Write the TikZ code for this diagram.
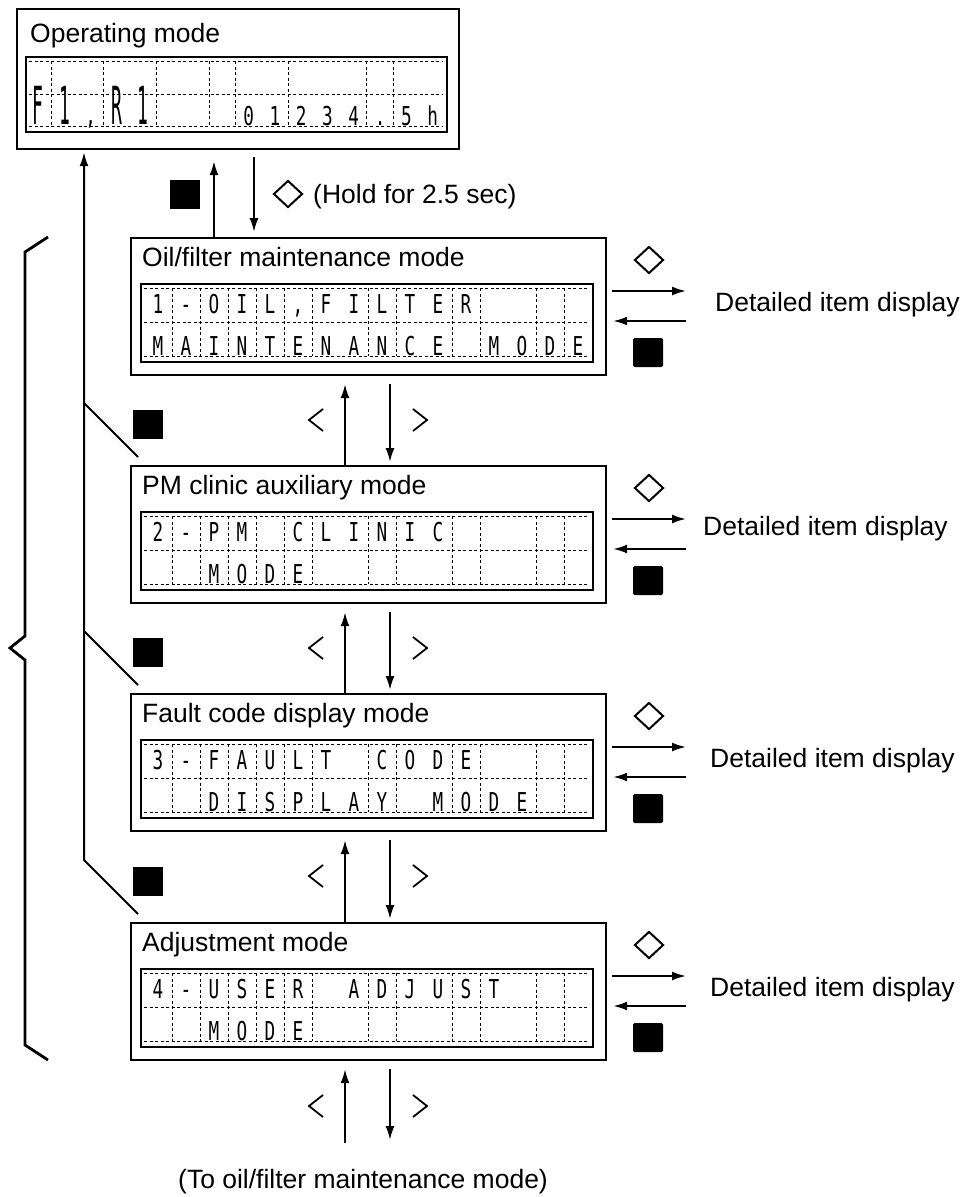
\documentclass[tikz,border=0pt]{standalone}
\usepackage{fontspec}
\setmainfont{Liberation Sans}
\newfontfamily\lcdfont{DejaVu Sans Mono}
\usetikzlibrary{arrows.meta,shapes.geometric}
\tikzset{
 modebox/.style={draw,line width=2.2pt,inner sep=0pt,anchor=north west,minimum width=475pt,minimum height=137pt},
 lcdbox/.style={draw,line width=1.8pt,inner sep=0pt,anchor=north west,minimum width=452pt,minimum height=78pt},
 lcdgrid/.style={line width=0.9pt,dash pattern=on 3pt off 2.5pt},
 title/.style={anchor=base west,inner sep=0pt,font=\fontsize{26.5}{30}\selectfont},
 lbl/.style={anchor=base west,inner sep=0pt,font=\fontsize{26.5}{30}\selectfont},
 lcdch/.style={anchor=base,inner sep=0pt,font=\lcdfont\fontsize{26}{26}\selectfont},
 lcdtall/.style={anchor=base,inner sep=0pt,font=\lcdfont\fontsize{30}{30}\selectfont},
 keysq/.style={fill=black,minimum width=30pt,minimum height=29pt,inner sep=0pt,rounded corners=1.5pt},
 keydia/.style={diamond,draw,line width=2pt,minimum width=29pt,minimum height=27pt,inner sep=0pt},
 arr/.style={line width=2pt,-{Latex[length=14pt,width=9pt]}},
 conn/.style={line width=2pt},
 chev/.style={line width=1.8pt},
}
\newcommand\lcdrow[5]{%
 \foreach \cc/\ch in {#5}{\node[lcdch] (#1-\cc) at ({#2+#3*\cc},#4) {\scalebox{0.68}[1]{\ch}};}}
\newcommand\lcdlines[8]{%
 \draw[lcdgrid] (#1+4,#3+5) -- (#2-4,#3+5);
 \draw[lcdgrid] (#1+4,#4-5) -- (#2-4,#4-5);
 \draw[lcdgrid] (#1+4,#5) -- (#2-4,#5);
 \foreach \k in {#8}{\draw[lcdgrid] ({#6+#7*\k},#3+5) -- ({#6+#7*\k},#4-5);}}
\begin{document}
\begin{tikzpicture}[x=1pt,y=-1pt]
\useasboundingbox (0,0) rectangle (968,1197);
% ---------- operating mode ----------
\node[modebox,minimum width=442pt,minimum height=140pt] (op) at (16,8) {};
\node[title] (optitle) at (30,42) {Operating mode};
\node[lcdbox,minimum width=421pt,minimum height=75pt] (oplcd) at (25,56) {};
\lcdlines{25}{446}{56}{131}{94}{25}{26.3}{1,3,5,7,8,10,13,14}
\node[lcdtall] (opF) at (38.2,124) {\scalebox{0.6}[1.75]{F}};
\node[lcdtall] (op1a) at (64.5,124) {\scalebox{0.6}[1.75]{1}};
\node[lcdch] (opc) at (90.8,124) {\scalebox{0.68}[1]{,}};
\node[lcdtall] (opR) at (117.1,124) {\scalebox{0.6}[1.75]{R}};
\node[lcdtall] (op1b) at (143.4,124) {\scalebox{0.6}[1.75]{1}};
\lcdrow{opr}{38.2}{26.3}{125}{8/0,9/1,10/2,11/3,12/4,13/.,14/5,15/h}
% ---------- mode boxes ----------
\node[modebox] (oil) at (130,237) {};
\node[title] (oiltitle) at (142,266) {Oil/filter maintenance mode};
\node[lcdbox] (oillcd) at (140,283) {};
\lcdlines{140}{592}{283}{361}{322}{144}{28}{1,2,3,4,5,6,8,9,11,12,14,15}
\lcdrow{oilr1}{158}{28}{313}{0/1,1/-,2/O,3/I,4/L,5/{,},6/F,7/I,8/L,9/T,10/E,11/R}
\lcdrow{oilr2}{158}{28}{355}{0/M,1/A,2/I,3/N,4/T,5/E,6/N,7/A,8/N,9/C,10/E,12/M,13/O,14/D,15/E}

\node[modebox] (pm) at (130,465) {};
\node[title] (pmtitle) at (142,494) {PM clinic auxiliary mode};
\node[lcdbox] (pmlcd) at (140,511) {};
\lcdlines{140}{592}{511}{589}{550}{144}{28}{1,2,3,4,5,6,8,9,11,12,14,15}
\lcdrow{pmr1}{158}{28}{541}{0/2,1/-,2/P,3/M,5/C,6/L,7/I,8/N,9/I,10/C}
\lcdrow{pmr2}{158}{28}{583}{2/M,3/O,4/D,5/E}

\node[modebox] (fault) at (130,693) {};
\node[title] (faulttitle) at (142,722) {Fault code display mode};
\node[lcdbox] (faultlcd) at (140,739) {};
\lcdlines{140}{592}{739}{817}{778}{144}{28}{1,2,3,4,5,6,8,9,11,12,14,15}
\lcdrow{faultr1}{158}{28}{769}{0/3,1/-,2/F,3/A,4/U,5/L,6/T,8/C,9/O,10/D,11/E}
\lcdrow{faultr2}{158}{28}{811}{2/D,3/I,4/S,5/P,6/L,7/A,8/Y,10/M,11/O,12/D,13/E}

\node[modebox] (adj) at (130,922) {};
\node[title] (adjtitle) at (142,951) {Adjustment mode};
\node[lcdbox] (adjlcd) at (140,968) {};
\lcdlines{140}{592}{968}{1046}{1007}{144}{28}{1,2,3,4,5,6,8,9,11,12,14,15}
\lcdrow{adjr1}{158}{28}{998}{0/4,1/-,2/U,3/S,4/E,5/R,7/A,8/D,9/J,10/U,11/S,12/T}
\lcdrow{adjr2}{158}{28}{1040}{2/M,3/O,4/D,5/E}

% ---------- right side: detailed item display ----------
\foreach \b/\t/\dx/\dy in {oil/237/715/311, pm/465/703/535, fault/693/710/767, adj/922/710/996}{
  \node[keydia] (\b-dia) at (649,\t+23) {};
  \node[lbl] (\b-det) at (\dx,\dy) {Detailed item display};
  \coordinate (\b-ra) at (686,\t+54);
  \coordinate (\b-la) at (686,\t+84);
  \draw[arr] (\b.east |- \b-ra) ++(5,0) -- (\b-ra);
  \draw[arr,shorten >=6pt] (\b-la) -- (\b.east |- \b-la);
  \node[keysq] (\b-sq) at (648,\t+115.5) {};
}

% ---------- top connectors ----------
\path (214,0) coordinate (cu) (254,0) coordinate (cd) (345,0) coordinate (cl) (390,0) coordinate (cr);
\draw[arr,shorten >=11pt] (oil.north -| cu) -- (op.south -| cu);
\draw[arr,shorten <=7pt,shorten >=5pt] (op.south -| cd) -- (oil.north -| cd);
\node[keysq,rounded corners=0pt] (topsq) at (185,194) {};
\node[keydia] (topdia) at (288,194) {};
\node[lbl] (hold) at (313,203) {(Hold for 2.5 sec)};

% ---------- between mode boxes ----------
\foreach \u/\l/\m in {oil/pm/420, pm/fault/648, fault/adj/876}{
  \draw[arr,shorten >=8pt] (\l.north -| cl) -- (\u.south -| cl);
  \draw[arr,shorten <=8pt,shorten >=3pt] (\u.south -| cr) -- (\l.north -| cr);
  \draw[chev] (323,\m-11) -- (309,\m) -- (323,\m+11);
  \draw[chev] (413,\m-11) -- (427,\m) -- (413,\m+11);
}
% ---------- below adjustment ----------
\coordinate (bu) at (345,1143);
\coordinate (bd) at (390,1140);
\draw[arr] (bu) -- ([yshift=-8pt]adj.south -| bu);
\draw[arr,shorten <=8pt] (adj.south -| bd) -- (bd);
\draw[chev] (323,1095) -- (309,1106) -- (323,1117);
\draw[chev] (413,1095) -- (427,1106) -- (413,1117);
\node[lbl] (toText) at (178,1188) {(To oil/filter maintenance mode)};

% ---------- return path to operating mode ----------
\coordinate (j2) at (84,403); \coordinate (s2) at (138,457);
\coordinate (j3) at (84,631); \coordinate (s3) at (138,685);
\coordinate (j4) at (84,860); \coordinate (s4) at (138,914);
\draw[conn] (s2) -- (j2);
\draw[conn] (s3) -- (j3);
\draw[arr,line join=miter,shorten >=2pt] (s4) -- (j4) -- (j4 |- op.south);
\node[keysq,rounded corners=0pt] (sq2) at (147.5,424.5) {};
\node[keysq,rounded corners=0pt] (sq3) at (147.5,652.5) {};
\node[keysq,rounded corners=0pt] (sq4) at (147.5,881.5) {};

% ---------- brace ----------
\draw[line width=2.8pt,line join=miter] (48,237) -- (25,252) -- (25,636) -- (10,648) -- (25,660) -- (25,1045) -- (48,1060);
\end{tikzpicture}
\end{document}
